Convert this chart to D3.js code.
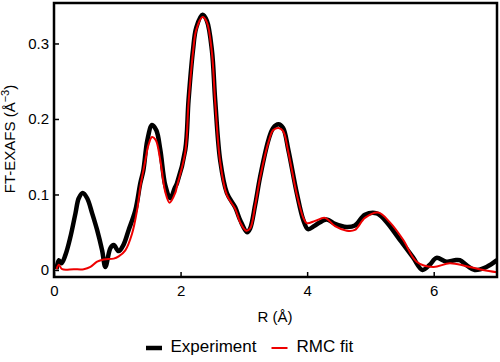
<!DOCTYPE html>
<html>
<head>
<meta charset="utf-8">
<script src="https://cdn.jsdelivr.net/npm/d3@7"></script>
<style>
body { margin: 0; background: #fff; }
text { font-family: Arial, "Liberation Sans", sans-serif; }
</style>
</head>
<body>
<svg width="500" height="362"></svg>
<script>
// R (Å) and FT-EXAFS magnitude
var expR = [0.04, 0.076, 0.118, 0.181, 0.26, 0.339, 0.391, 0.454, 0.524, 0.603, 0.681, 0.76, 0.812, 0.891, 0.943, 1.022, 1.096, 1.18, 1.285, 1.364, 1.412, 1.475, 1.549, 1.617, 1.68, 1.759, 1.838, 1.905, 1.943, 2.074, 2.126, 2.196, 2.248, 2.347, 2.416, 2.495, 2.547, 2.626, 2.732, 2.863, 2.942, 3.052, 3.099, 3.178, 3.256, 3.388, 3.462, 3.546, 3.62, 3.703, 3.836, 3.94, 4.014, 4.125, 4.309, 4.44, 4.625, 4.755, 4.913, 5.098, 5.229, 5.465, 5.67, 5.823, 5.938, 6.044, 6.202, 6.333, 6.412, 6.538, 6.648, 6.833, 7.0];
var expV = [0.001, 0.013, 0.009, 0.02, 0.044, 0.075, 0.095, 0.102, 0.095, 0.075, 0.053, 0.026, 0.004, 0.029, 0.033, 0.025, 0.033, 0.053, 0.079, 0.115, 0.132, 0.172, 0.192, 0.185, 0.159, 0.112, 0.095, 0.108, 0.115, 0.159, 0.225, 0.291, 0.321, 0.338, 0.33, 0.291, 0.225, 0.145, 0.102, 0.083, 0.066, 0.05, 0.055, 0.086, 0.123, 0.172, 0.188, 0.193, 0.188, 0.159, 0.102, 0.066, 0.054, 0.059, 0.067, 0.061, 0.057, 0.059, 0.073, 0.075, 0.066, 0.04, 0.017, 0.0, 0.007, 0.016, 0.011, 0.013, 0.013, 0.005, 0.0, 0.004, 0.013];

var fitR = [0.04, 0.076, 0.129, 0.312, 0.47, 0.576, 0.681, 0.785, 0.943, 1.022, 1.127, 1.233, 1.312, 1.364, 1.443, 1.491, 1.549, 1.609, 1.68, 1.759, 1.826, 1.916, 1.943, 2.074, 2.126, 2.196, 2.248, 2.347, 2.416, 2.495, 2.547, 2.626, 2.732, 2.863, 2.942, 3.036, 3.099, 3.178, 3.256, 3.388, 3.462, 3.546, 3.62, 3.703, 3.836, 3.94, 3.994, 4.125, 4.282, 4.44, 4.625, 4.755, 4.913, 5.123, 5.308, 5.517, 5.729, 5.991, 6.254, 6.517, 6.779, 7.0];
var fitV = [0.001, 0.007, 0.001, 0.001, 0.001, 0.004, 0.011, 0.014, 0.015, 0.018, 0.026, 0.048, 0.079, 0.11, 0.145, 0.165, 0.176, 0.172, 0.145, 0.103, 0.089, 0.102, 0.111, 0.156, 0.222, 0.288, 0.318, 0.335, 0.328, 0.288, 0.222, 0.143, 0.099, 0.081, 0.063, 0.052, 0.055, 0.085, 0.122, 0.169, 0.185, 0.188, 0.184, 0.156, 0.1, 0.069, 0.062, 0.065, 0.069, 0.058, 0.052, 0.053, 0.069, 0.076, 0.063, 0.04, 0.011, 0.004, 0.009, 0.005, 0.0, -0.003];

var xTicks = [0, 2, 4, 6];
var yTicks = [0, 0.1, 0.2, 0.3];

var svg = d3.select('svg');

var scaleX = d3.scaleLinear().domain([0, 7]).range([54, 497]);
var scaleY = d3.scaleLinear().domain([-0.0093, 0.3536]).range([277, 3]);

svg.append('clipPath').attr('id', 'clip')
    .append('rect')
    .attr('x', 54).attr('y', 3)
    .attr('width', 443).attr('height', 274);

var line = d3.line()
    .x(function(d){ return scaleX(d[0]); })
    .y(function(d){ return scaleY(d[1]); })
    .curve(d3.curveCatmullRom.alpha(0.5));

var plot = svg.append('g').attr('clip-path', 'url(#clip)');

plot.append('path')
    .datum(d3.zip(expR, expV))
    .attr('fill', 'none')
    .attr('stroke', '#000')
    .attr('stroke-width', 4.5)
    .attr('stroke-linejoin', 'round')
    .attr('d', line);

plot.append('path')
    .datum(d3.zip(fitR, fitV))
    .attr('fill', 'none')
    .attr('stroke', '#ee0000')
    .attr('stroke-width', 2)
    .attr('stroke-linejoin', 'round')
    .attr('d', line);

// axes, ticks pointing inward
var xAxis = svg.append('g')
    .attr('transform', 'translate(0,277)')
    .call(d3.axisBottom(scaleX).tickValues(xTicks).tickFormat(d3.format('d'))
        .tickSizeInner(-5).tickSizeOuter(0).tickPadding(8));

var yAxis = svg.append('g')
    .attr('transform', 'translate(54,0)')
    .call(d3.axisLeft(scaleY).tickValues(yTicks).tickFormat(function(d){ return d === 0 ? '0' : d3.format('.1f')(d); })
        .tickSizeInner(-5).tickSizeOuter(0).tickPadding(5));

[xAxis, yAxis].forEach(function(a){
    a.select('.domain').remove();
    a.selectAll('.tick line').attr('stroke', '#000').attr('stroke-width', 1.5);
    a.selectAll('.tick text').attr('font-size', 15).attr('fill', '#000')
        .style('font-family', 'Arial, "Liberation Sans", sans-serif');
});

// frame
svg.append('rect')
    .attr('x', 54).attr('y', 3)
    .attr('width', 443).attr('height', 274)
    .attr('fill', 'none')
    .attr('stroke', '#000')
    .attr('stroke-width', 2.5);

svg.append('text')
    .attr('x', 275)
    .attr('y', 321.5)
    .attr('font-size', 15)
    .attr('text-anchor', 'middle')
    .text('R (Å)');

var yt = svg.append('text')
    .attr('transform', 'translate(15,139) rotate(-90)')
    .attr('font-size', 15)
    .attr('text-anchor', 'middle')
    .text('FT-EXAFS (Å');
yt.append('tspan').attr('dy', -6).attr('font-size', 11).text('−3');
yt.append('tspan').attr('dy', 6).text(')');

// legend
svg.append('line')
    .attr('x1', 146).attr('x2', 162)
    .attr('y1', 348).attr('y2', 348)
    .attr('stroke', '#000').attr('stroke-width', 4.5);
svg.append('text')
    .attr('x', 170.5).attr('y', 351.7)
    .attr('font-size', 17)
    .text('Experiment');
svg.append('line')
    .attr('x1', 271.5).attr('x2', 287.5)
    .attr('y1', 348).attr('y2', 348)
    .attr('stroke', '#ee0000').attr('stroke-width', 2);
svg.append('text')
    .attr('x', 296.5).attr('y', 351.7)
    .attr('font-size', 17)
    .text('RMC fit');
</script>
</body>
</html>
